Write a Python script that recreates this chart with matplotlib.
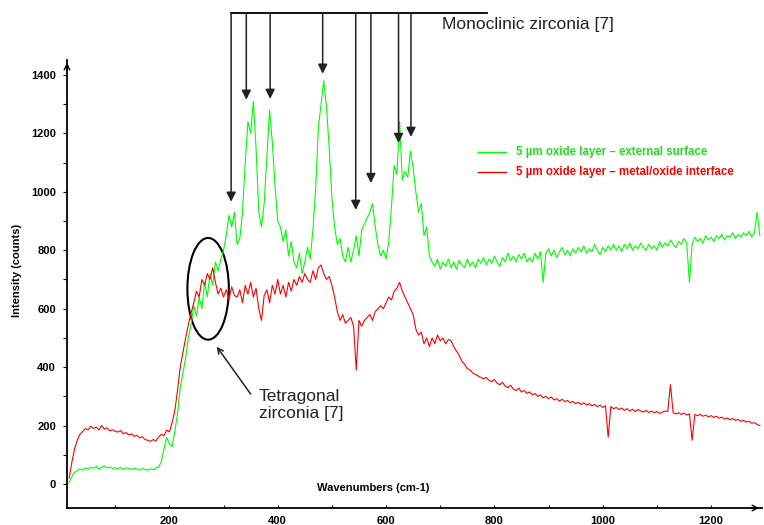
import numpy as np
import matplotlib
matplotlib.use("Agg")
from matplotlib import pyplot as plt
from matplotlib.patches import Ellipse
from matplotlib.ticker import MultipleLocator

plt.rcParams['font.family'] = ['Liberation Sans', 'DejaVu Sans']

# Vlnočty (cm-1), krok 5
wavenumbers = np.arange(15, 1291, 5)

# Spektrum - vonkajší povrch (zelená)
ext_y = [5, 25, 40, 46, 52, 48, 55, 50, 58, 54, 60, 52, 57, 62, 55, 58, 53, 56,
         52, 57, 50, 55, 53, 49, 54, 51, 48, 53, 50, 47, 52, 49, 54, 58,
         75, 120, 160, 138, 128, 180, 240, 330, 380, 430, 500, 545,
         610, 575, 640, 600, 690, 640, 720, 680, 760, 730, 770, 800,
         850, 920, 880, 930, 820, 840, 930, 1100, 1240, 1200, 1310, 1150,
         930, 880, 960, 1120, 1280, 1170, 1020, 900, 880, 830, 870, 780,
         830, 760, 740, 790, 720, 760, 810, 770, 870, 1010, 1220, 1300,
         1380, 1290, 1150, 980, 880, 820, 840, 780, 760, 810, 760, 800,
         850, 780, 870, 890, 910, 930, 960, 880, 820, 780, 800, 770,
         830, 950, 1090, 1060, 1240, 1040, 1070, 1050, 1140, 1080, 1000, 930,
         960, 850, 880, 780, 760, 745, 770, 735, 760, 745, 770, 740,
         760, 735, 765, 750, 740, 770, 745, 760, 740, 770, 755, 775,
         750, 770, 755, 780, 760, 745, 775, 760, 790, 765, 780, 760,
         785, 770, 790, 760, 775, 760, 790, 770, 795, 690, 790, 805,
         780, 800, 775, 795, 810, 785, 800, 780, 805, 790, 810, 795,
         815, 790, 805, 795, 820, 800, 785, 810, 795, 815, 800, 820,
         800, 815, 795, 820, 805, 825, 800, 815, 805, 825, 810, 800,
         820, 805, 815, 800, 830, 810, 825, 815, 835, 820, 810, 830,
         820, 840, 825, 690, 820, 845, 830, 840, 825, 850, 835, 845,
         830, 850, 840, 855, 835, 850, 845, 860, 840, 855, 845, 860,
         850, 865, 845, 860, 930, 850]

# Spektrum - rozhranie kov/oxid (červená)
int_y = [20, 75, 120, 150, 170, 180, 190, 185, 198, 190, 195, 185, 200, 188, 192, 182, 186, 180,
         178, 183, 172, 176, 168, 172, 163, 167, 158, 162, 152, 150, 146, 152, 148, 160,
         170, 165, 185, 178, 210, 250, 320, 400, 450, 500, 545, 585,
         620, 660, 640, 700, 680, 720, 700, 740, 690, 650, 670, 640,
         665, 630, 675, 645, 640, 665, 620, 680, 650, 690, 640, 670,
         600, 560, 645, 665, 620, 680, 650, 700, 650, 680, 640, 690,
         660, 700, 680, 710, 690, 720, 700, 690, 730, 700, 740, 750,
         720, 700, 710, 680, 640, 590, 560, 580, 550, 560, 570, 540,
         390, 560, 540, 560, 570, 580, 560, 590, 600, 610, 600, 620,
         640, 630, 660, 670, 690, 660, 640, 620, 600, 580, 530, 510,
         520, 480, 500, 470, 500, 480, 510, 490, 500, 480, 495, 490,
         470, 455, 440, 420, 410, 395, 390, 380, 375, 370, 365, 360,
         365, 355, 350, 358, 345, 340, 348, 335, 330, 338, 325, 320,
         328, 315, 320, 310, 315, 305, 310, 300, 305, 295, 300, 292,
         298, 288, 292, 284, 290, 282, 286, 278, 283, 275, 280, 272,
         278, 270, 275, 268, 272, 265, 270, 262, 268, 160, 265, 258,
         262, 255, 260, 252, 258, 250, 256, 248, 255, 250, 246, 252,
         245, 250, 244, 248, 242, 246, 250, 248, 340, 244, 240, 244,
         238, 243, 236, 240, 150, 238, 234, 238, 232, 236, 230, 234,
         228, 232, 225, 229, 222, 226, 220, 224, 218, 221, 215, 218,
         212, 215, 208, 210, 204, 200]

# Monoklinické pásy (šípky)
mono_x = [314, 342, 386, 483, 544, 572, 623, 646]
mono_tip = [966, 1315, 1318, 1404, 938, 1030, 1167, 1188]
bar_y = 1612

fig = plt.figure(figsize=(7.64, 5.25), dpi=100)
ax = fig.add_axes([67 / 764, 17 / 525, 695 / 764, 448 / 525])

ax.plot(wavenumbers, ext_y, color='#00ff00', lw=0.8)
ax.plot(wavenumbers, int_y, color='#ff0000', lw=0.8)

ax.set_xlim(11, 1294)
ax.set_ylim(-82, 1451)

for s in ['top', 'right']:
    ax.spines[s].set_visible(False)
for s in ['left', 'bottom']:
    ax.spines[s].set_linewidth(1.3)

ax.xaxis.set_major_locator(MultipleLocator(200))
ax.xaxis.set_minor_locator(MultipleLocator(100))
ax.yaxis.set_major_locator(MultipleLocator(200))
ax.yaxis.set_minor_locator(MultipleLocator(100))
ax.tick_params(axis='x', which='both', direction='in', length=2, width=0.8, pad=6, labelsize=8)
ax.tick_params(axis='y', which='both', direction='out', length=3, width=0.8, pad=5, labelsize=8)
for lab in ax.get_xticklabels() + ax.get_yticklabels():
    lab.set_fontweight('bold')

# Šípky na koncoch osí
ax.annotate('', xy=(0, 1.0), xytext=(0, 0.97), xycoords='axes fraction',
            arrowprops=dict(arrowstyle='->', lw=1.0, color='black'))
ax.annotate('', xy=(1.0, 0), xytext=(0.98, 0), xycoords='axes fraction',
            arrowprops=dict(arrowstyle='->', lw=1.0, color='black'))

ax.text(0.44, 0.045, 'Wavenumbers (cm-1)', transform=ax.transAxes, ha='center', va='center',
        fontsize=8, fontweight='bold')
fig.text(17 / 764, 1 - 270 / 525, 'Intensity (counts)', rotation=90, ha='center', va='center',
         fontsize=8, fontweight='bold')

# Monoklinické šípky
ax.plot([min(mono_x), 787], [bar_y, bar_y], color='black', lw=1.3, clip_on=False)
for mx, mt in zip(mono_x, mono_tip):
    ax.annotate('', xy=(mx, mt), xytext=(mx, bar_y), annotation_clip=False,
                arrowprops=dict(arrowstyle='-|>', lw=1.1, color='#222222', mutation_scale=14,
                                shrinkA=0, shrinkB=0))
fig.text(442 / 764, 1 - 25 / 525, 'Monoclinic zirconia [7]', ha='left', va='center', fontsize=12.5,
         color='#222222')

# Tetragonálna oblasť
ax.add_patch(Ellipse((271.5, 668), 76.5, 348, fill=False, lw=1.5, color='black'))
ax.annotate('', xy=(287.5, 470), xytext=(350, 308),
            arrowprops=dict(arrowstyle='->', lw=1.1, color='#222222', shrinkA=0, shrinkB=0))
fig.text(259 / 764, 1 - 405 / 525, 'Tetragonal\nzirconia [7]', ha='left', va='center', fontsize=12.5,
         color='#222222', linespacing=1.1)

# Legenda
fig.add_artist(plt.Line2D([478 / 764, 506 / 764], [1 - 152 / 525, 1 - 152 / 525], color='#00ff00', lw=1))
fig.add_artist(plt.Line2D([478 / 764, 506 / 764], [1 - 172 / 525, 1 - 172 / 525], color='#ff0000', lw=1))
fig.text(516 / 764, 1 - 152 / 525, '5 µm oxide layer – external surface', color='#22dd22',
         fontsize=8.3, fontweight='bold', va='center')
fig.text(516 / 764, 1 - 172 / 525, '5 µm oxide layer – metal/oxide interface', color='#ff0000',
         fontsize=8.3, fontweight='bold', va='center')

fig.savefig('out.png', dpi=100)
